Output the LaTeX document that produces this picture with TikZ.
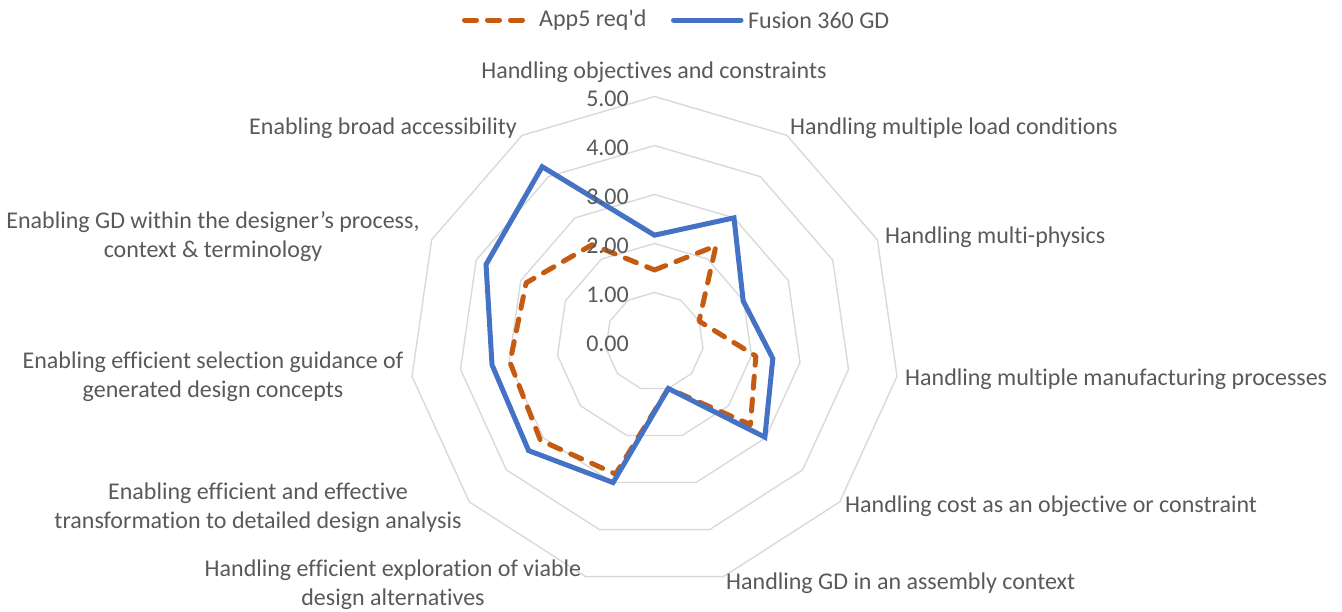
\documentclass[tikz,border=0pt]{standalone}
\usepackage{fontspec}
\setmainfont[Ligatures={NoCommon}]{Carlito}
\definecolor{ringgray}{HTML}{D9D9D9}
\definecolor{txtgray}{HTML}{595959}
\definecolor{fusblue}{HTML}{4472C4}
\definecolor{apporange}{HTML}{C55A11}
\begin{document}
\begin{tikzpicture}[x=1pt,y=-1pt,
  lbl/.style={text=txtgray, font=\fontsize{24}{29}\selectfont, inner sep=0pt, align=center},
  ring/.style={draw=ringgray, line width=1.4pt},
  fusion/.style={draw=fusblue, line width=5pt, line join=miter},
  app/.style={draw=apporange, line width=5pt, dash pattern=on 12pt off 11pt, line cap=round, line join=round}]
\useasboundingbox (0,0) rectangle (1342,611);
% rings
\begin{scope}[shift={(654.5,341.5)}]
  \foreach \r in {1,...,5} {
    \draw[ring] (-90:\r*49) \foreach \k in {1,...,10} { -- (\k*360/11-90:\r*49) } -- cycle;
  }
  \foreach \v [count=\k from 0] in {1.46,2.32,1.0,2.09,2.59,1.0,2.82,3.08,2.98,2.88,2.35} {
    \coordinate (a\k) at (\k*360/11-90:\v*49);
  }
  \foreach \v [count=\k from 0] in {2.17,3.0,1.99,2.44,2.98,1.0,3.0,3.4,3.35,3.78,4.24} {
    \coordinate (b\k) at (\k*360/11-90:\v*49);
  }
\end{scope}
% series
\draw[app] (a0) -- (a1) -- (a2) -- (a3) -- (a4) -- (a5) -- (a6) -- (a7) -- (a8) -- (a9) -- (a10) -- cycle;
\draw[fusion] (b0) -- (b1) -- (b2) -- (b3) -- (b4) -- (b5) -- (b6) -- (b7) -- (b8) -- (b9) -- (b10) -- cycle;
% value labels
\node[lbl, anchor=east] (v5) at (629,98.5) {5.00};
\node[lbl, anchor=east] (v4) at (629,147.5) {4.00};
\node[lbl, anchor=east] (v3) at (629,196.5) {3.00};
\node[lbl, anchor=east] (v2) at (629,245.5) {2.00};
\node[lbl, anchor=east] (v1) at (629,294.5) {1.00};
\node[lbl, anchor=east] (v0) at (629,343.5) {0.00};
% category labels
\node[lbl, anchor=center] (c0) at (654,72) {Handling objectives and constraints};
\node[lbl, anchor=west] (c1) at (790,128) {Handling multiple load conditions};
\node[lbl, anchor=west] (c2) at (885,237) {Handling multi-physics};
\node[lbl, anchor=west] (c3) at (905,379) {Handling multiple manufacturing processes};
\node[lbl, anchor=west] (c4) at (845,506) {Handling cost as an objective or constraint};
\node[lbl, anchor=west] (c5) at (726,583) {Handling GD in an assembly context};
\node[lbl, anchor=center] (c6) at (393,585) {Handling efficient exploration of viable\\design alternatives};
\node[lbl, anchor=center] (c7) at (258,508) {Enabling efficient and effective\\transformation to detailed design analysis};
\node[lbl, anchor=center] (c8) at (213,377) {Enabling efficient selection guidance of\\generated design concepts};
\node[lbl, anchor=center] (c9) at (213,237) {Enabling GD within the designer’s process,\\context \& terminology};
\node[lbl, anchor=east] (c10) at (517,128) {Enabling broad accessibility};
% legend
\coordinate (la1) at (464.5,20);
\coordinate (la2) at (524.5,20);
\draw[app] (la1) -- (la2);
\node[lbl, anchor=west] (lta) at (539,20) {App5 req\textquotesingle d};
\coordinate (lb1) at (673.5,20);
\coordinate (lb2) at (741,20);
\draw[fusion, line cap=round] (lb1) -- (lb2);
\node[lbl, anchor=west] (ltb) at (748,20) {Fusion 360 GD};
\end{tikzpicture}
\end{document}
